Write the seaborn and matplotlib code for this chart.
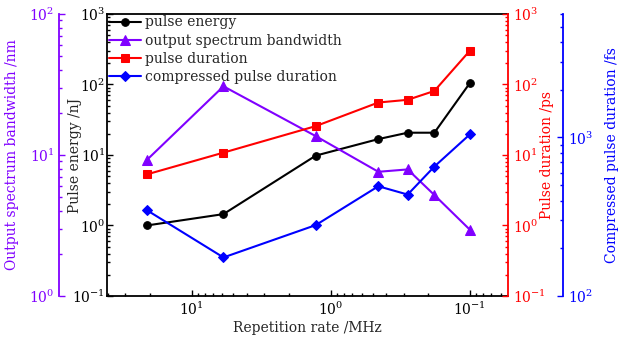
import matplotlib
matplotlib.use("Agg")
import matplotlib.pyplot as plt
import seaborn as sns
import numpy as np
from matplotlib.ticker import LogLocator, NullFormatter

# ---- data ----
rep_rate = [21, 5.9, 1.28, 0.455, 0.28, 0.18, 0.1]          # MHz
pulse_energy = [1.0, 1.45, 9.8, 16.8, 20.7, 20.7, 105]       # nJ
bandwidth = [9.2, 30.7, 13.6, 7.6, 7.9, 5.2, 2.95]           # nm
pulse_duration = [5.3, 10.8, 25.7, 55.5, 60.6, 81, 302]      # ps
compressed = [348, 175, 280, 492, 436, 655, 1045]            # fs

labels = ["pulse energy", "output spectrum bandwidth", "pulse duration",
          "compressed pulse duration"]

sns.set_style("ticks")
plt.rcParams['font.family'] = ['DejaVu Serif']
plt.rcParams['mathtext.fontset'] = 'dejavuserif'
plt.rcParams['font.size'] = 10

BLACK = "#000000"
PURPLE = "#8000FF"
RED = "#FF0000"
BLUE = "#0000FF"

PX = 72.0 / 100.0  # points per pixel

fig = plt.figure(figsize=(6.24, 3.41), dpi=100)
ax = fig.add_axes([0.172, 0.132, 0.642, 0.827])
ax_p = ax.twinx()
ax_r = ax.twinx()
ax_b = ax.twinx()

lw = 1.5
ms = 5.5
sns.lineplot(x=rep_rate, y=pulse_energy, ax=ax, color=BLACK, marker='o',
             markersize=ms, markeredgecolor=BLACK, linewidth=lw, label=labels[0], sort=False)
sns.lineplot(x=rep_rate, y=bandwidth, ax=ax_p, color=PURPLE, marker='^',
             markersize=ms + 1, markeredgecolor=PURPLE, linewidth=lw, label=labels[1], sort=False)
sns.lineplot(x=rep_rate, y=pulse_duration, ax=ax_r, color=RED, marker='s',
             markersize=ms, markeredgecolor=RED, linewidth=lw, label=labels[2], sort=False)
sns.lineplot(x=rep_rate, y=compressed, ax=ax_b, color=BLUE, marker='D',
             markersize=ms, markeredgecolor=BLUE, linewidth=lw, label=labels[3], sort=False)

for a in (ax, ax_p, ax_r, ax_b):
    if a.get_legend() is not None:
        a.get_legend().remove()

ax.set_xscale('log')
ax.set_xlim(40.3, 0.0533)
for a, lim in ((ax, (0.1, 1000)), (ax_p, (1, 100)), (ax_r, (0.1, 1000)), (ax_b, (100, 6000))):
    a.set_yscale('log')
    a.set_ylim(*lim)
    a.yaxis.set_major_locator(LogLocator(base=10))
    a.yaxis.set_minor_locator(LogLocator(base=10, subs=np.arange(2, 10)))
    a.yaxis.set_minor_formatter(NullFormatter())

ax.xaxis.set_major_locator(LogLocator(base=10))
ax.xaxis.set_minor_locator(LogLocator(base=10, subs=np.arange(2, 10)))
ax.xaxis.set_minor_formatter(NullFormatter())

# main axis styling
for s in ('left', 'bottom', 'top'):
    ax.spines[s].set_color(BLACK)
    ax.spines[s].set_linewidth(1.3)
ax.spines['right'].set_visible(False)
ax.tick_params(which='both', direction='in', top=False, right=False, colors=BLACK,
               labelsize=10, width=1.0)
ax.tick_params(which='major', length=4)
ax.tick_params(which='minor', length=2)
ax.tick_params(axis='y', which='both', pad=1.5)
ax.set_xlabel("Repetition rate /MHz", fontsize=10, labelpad=2)
ax.set_ylabel("Pulse energy /nJ", fontsize=10)
ax.yaxis.set_label_coords(-0.064, 0.5)

# purple (outer left)
ax_p.yaxis.set_ticks_position('left')
ax_p.yaxis.set_label_position('left')
ax_p.spines['left'].set_position(('outward', 48 * PX))
for s in ('right', 'top', 'bottom'):
    ax_p.spines[s].set_visible(False)
ax_p.spines['left'].set_color(PURPLE)
ax_p.spines['left'].set_linewidth(1.3)
ax_p.tick_params(which='both', direction='in', colors=PURPLE, labelcolor=PURPLE,
                 labelsize=10, width=1.0)
ax_p.tick_params(which='major', length=4)
ax_p.tick_params(which='minor', length=2)
ax_p.set_ylabel("Output spectrum bandwidth /nm", color=PURPLE, fontsize=10)
ax_p.yaxis.set_label_coords(-0.221, 0.5)

# red (right)
for s in ('left', 'top', 'bottom'):
    ax_r.spines[s].set_visible(False)
ax_r.spines['right'].set_color(RED)
ax_r.spines['right'].set_linewidth(1.3)
ax_r.tick_params(which='both', direction='in', colors=RED, labelcolor=RED,
                 labelsize=10, width=1.0)
ax_r.tick_params(which='major', length=4)
ax_r.tick_params(which='minor', length=2)
ax_r.set_ylabel("Pulse duration /ps", color=RED, fontsize=10)
ax_r.yaxis.set_label_coords(1.0796, 0.5)

# blue (outer right)
ax_b.spines['right'].set_position(('outward', 55 * PX))
for s in ('left', 'top', 'bottom'):
    ax_b.spines[s].set_visible(False)
ax_b.spines['right'].set_color(BLUE)
ax_b.spines['right'].set_linewidth(1.3)
ax_b.tick_params(which='both', direction='in', colors=BLUE, labelcolor=BLUE,
                 labelsize=10, width=1.0)
ax_b.tick_params(which='major', length=4)
ax_b.tick_params(which='minor', length=2)
ax_b.set_ylabel("Compressed pulse duration /fs", color=BLUE, fontsize=10)
ax_b.yaxis.set_label_coords(1.242, 0.5)

handles = [ax.get_lines()[0], ax_p.get_lines()[0], ax_r.get_lines()[0], ax_b.get_lines()[0]]
leg = ax_b.legend(handles, labels, loc='upper left', bbox_to_anchor=(0.0, 1.0),
                  frameon=False, fontsize=10, handlelength=2.3, handletextpad=0.3,
                  labelspacing=0.3, borderaxespad=0.05, borderpad=0.05, numpoints=1)

fig.savefig("out.png", dpi=100)
